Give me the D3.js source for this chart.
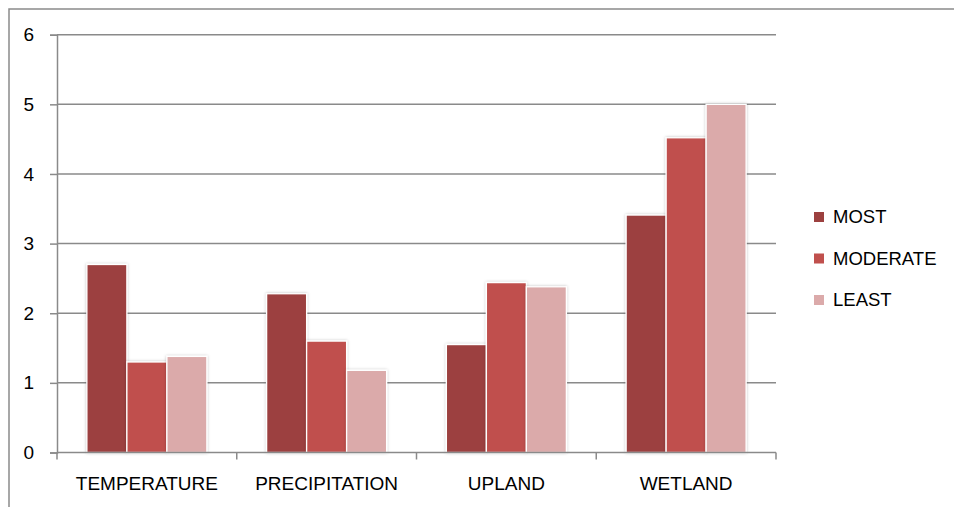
<!DOCTYPE html>
<html>
<head>
<meta charset="utf-8">
<script src="https://cdn.jsdelivr.net/npm/d3@7"></script>
<style>
  html, body { margin: 0; padding: 0; background: #fff; }
  svg { display: block; }
  text { font-family: "Liberation Sans", Arial, sans-serif; fill: #000; }
</style>
</head>
<body>
<svg id="chart" width="954" height="507"></svg>
<script>
// Chart data
const categories = ["TEMPERATURE", "PRECIPITATION", "UPLAND", "WETLAND"];
const seriesNames = ["MOST", "MODERATE", "LEAST"];
const most     = [2.70, 2.28, 1.55, 3.41];
const moderate = [1.30, 1.60, 2.44, 4.52];
const least    = [1.38, 1.18, 2.38, 5.00];
const yTicks   = [0, 1, 2, 3, 4, 5, 6];
const seriesColors = ["#9c403f", "#c0504d", "#dbaaaa"];

const seriesValues = [most, moderate, least];

const svg = d3.select("#chart");
const W = 954, H = 507;

// Outer frame (extends past the right and bottom edges)
svg.append("rect")
  .attr("x", 9).attr("y", 9)
  .attr("width", W + 20).attr("height", H + 20)
  .attr("fill", "none").attr("stroke", "#8a8a8a").attr("stroke-width", 1.5);

const plot = { left: 57, right: 776, top: 34.7, bottom: 452.5 };

const x0 = d3.scaleBand().domain(categories).range([plot.left, plot.right]).padding(0);
const groupWidth = 120;
const x1 = d3.scaleBand().domain(seriesNames).range([0, groupWidth]).padding(0);
const y = d3.scaleLinear().domain([0, 6]).range([plot.bottom, plot.top]);

// Soft shadow around bars
const defs = svg.append("defs");
const f = defs.append("filter").attr("id", "shadow")
  .attr("x", "-20%").attr("y", "-20%").attr("width", "140%").attr("height", "140%");
f.append("feDropShadow").attr("dx", 0).attr("dy", 0).attr("stdDeviation", 1.6)
  .attr("flood-color", "#000").attr("flood-opacity", 0.25);

// Y axis with tick labels
const yAxis = d3.axisLeft(y).tickValues(yTicks).tickFormat(d3.format("d"))
  .tickSize(7).tickPadding(16);
const gy = svg.append("g").attr("transform", `translate(${plot.left},0)`).call(yAxis);
gy.select(".domain").attr("stroke", "#8a8a8a").attr("stroke-width", 1.5);
gy.selectAll(".tick line").attr("stroke", "#8a8a8a").attr("stroke-width", 1.5);
gy.selectAll(".tick text").attr("font-size", 19).attr("font-family", "Liberation Sans, Arial, sans-serif").attr("fill", "#000");

// Horizontal gridlines
svg.append("g").selectAll("line")
  .data(yTicks.filter(d => d > 0))
  .join("line")
  .attr("x1", plot.left).attr("x2", plot.right)
  .attr("y1", d => y(d)).attr("y2", d => y(d))
  .attr("stroke", "#8a8a8a").attr("stroke-width", 1.5);

// Bars
const groups = svg.append("g").selectAll("g")
  .data(categories)
  .join("g")
  .attr("transform", d => `translate(${x0(d) + (x0.bandwidth() - groupWidth) / 2},0)`);

groups.selectAll("rect")
  .data((c, i) => seriesNames.map((s, j) => ({ s, v: seriesValues[j][i], j })))
  .join("rect")
  .attr("x", d => x1(d.s))
  .attr("y", d => y(d.v))
  .attr("width", x1.bandwidth())
  .attr("height", d => y(0) - y(d.v))
  .attr("fill", d => seriesColors[d.j])
  .attr("stroke", "#fff").attr("stroke-width", 1.3)
  .attr("filter", "url(#shadow)");

// X axis
const xAxis = d3.axisBottom(x0).tickSize(0).tickPadding(24);
const gx = svg.append("g").attr("transform", `translate(0,${plot.bottom})`).call(xAxis);
gx.select(".domain").remove();
gx.selectAll(".tick text").attr("font-size", 19).attr("font-family", "Liberation Sans, Arial, sans-serif").attr("fill", "#000");
svg.append("line")
  .attr("x1", plot.left).attr("x2", plot.right)
  .attr("y1", plot.bottom).attr("y2", plot.bottom)
  .attr("stroke", "#8a8a8a").attr("stroke-width", 1.5);
const boundaries = categories.map(c => x0(c)).concat([x0(categories[categories.length - 1]) + x0.bandwidth()]);
svg.append("g").selectAll("line")
  .data(boundaries)
  .join("line")
  .attr("x1", d => d).attr("x2", d => d)
  .attr("y1", plot.bottom).attr("y2", plot.bottom + 7)
  .attr("stroke", "#8a8a8a").attr("stroke-width", 1.5);

// Legend
const legend = svg.append("g").attr("transform", "translate(814,217)");
const li = legend.selectAll("g").data(seriesNames).join("g")
  .attr("transform", (d, i) => `translate(0,${i * 41.5})`);
li.append("rect").attr("x", 0).attr("y", -5).attr("width", 10).attr("height", 10)
  .attr("fill", (d, i) => seriesColors[i]);
li.append("text").attr("x", 19).attr("y", 0).attr("dy", "0.35em")
  .attr("font-size", 18.5).text(d => d);
</script>
</body>
</html>
